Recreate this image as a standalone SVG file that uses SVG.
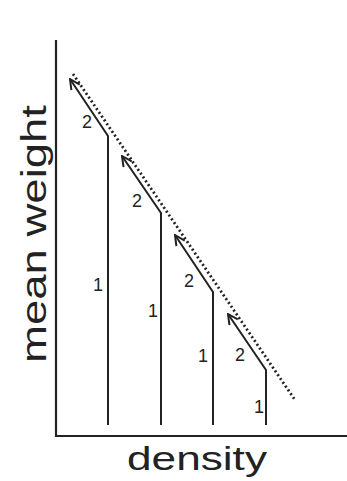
<svg xmlns="http://www.w3.org/2000/svg" width="347" height="481" viewBox="0 0 347 481">
<style>
.ax{stroke:#222;stroke-width:2.2;fill:none}
.ln{stroke:#222;stroke-width:2;fill:none}
.dot{stroke:#222;stroke-width:2.8;fill:none;stroke-dasharray:2 2.6}
.num{font-family:"Liberation Sans",Arial,sans-serif;font-size:18px;fill:#222;text-anchor:middle}
.lab{font-family:"Liberation Sans",Arial,sans-serif;fill:#222;text-anchor:middle}
</style>
<defs>
<marker id="ah" viewBox="0 0 12 12" refX="11" refY="6" markerWidth="12" markerHeight="12" markerUnits="userSpaceOnUse" orient="auto">
<polyline points="1,1 11,6 1,11" fill="none" stroke="#222" stroke-width="2"/>
</marker>
</defs>
<g id="axes">
<line class="ax" x1="56" y1="40" x2="56" y2="437"/>
<line class="ax" x1="55" y1="436" x2="347" y2="436"/>
</g>
<g id="connectors">
<polyline class="ln" points="108,425 108,136 70,79" marker-end="url(#ah)"/>
<polyline class="ln" points="161,425 161,213 122,156" marker-end="url(#ah)"/>
<polyline class="ln" points="213,425 213,292 175,235" marker-end="url(#ah)"/>
<polyline class="ln" points="266,425 266,370 228,314" marker-end="url(#ah)"/>
<line class="dot" x1="73" y1="74" x2="295" y2="400"/>
</g>
<g id="labels">
<text class="num" x="87" y="128">2</text>
<text class="num" x="137" y="207">2</text>
<text class="num" x="189" y="287">2</text>
<text class="num" x="240" y="361">2</text>
<text class="num" x="98" y="291">1</text>
<text class="num" x="153" y="317">1</text>
<text class="num" x="203" y="362">1</text>
<text class="num" x="259" y="413">1</text>
</g>
<g id="xlabel"><text class="lab" x="197" y="470" font-size="34" textLength="140" lengthAdjust="spacingAndGlyphs">density</text></g>
<g id="ylabel"><text class="lab" transform="translate(46,234) rotate(-90)" font-size="35" textLength="258" lengthAdjust="spacingAndGlyphs">mean weight</text></g>
</svg>
